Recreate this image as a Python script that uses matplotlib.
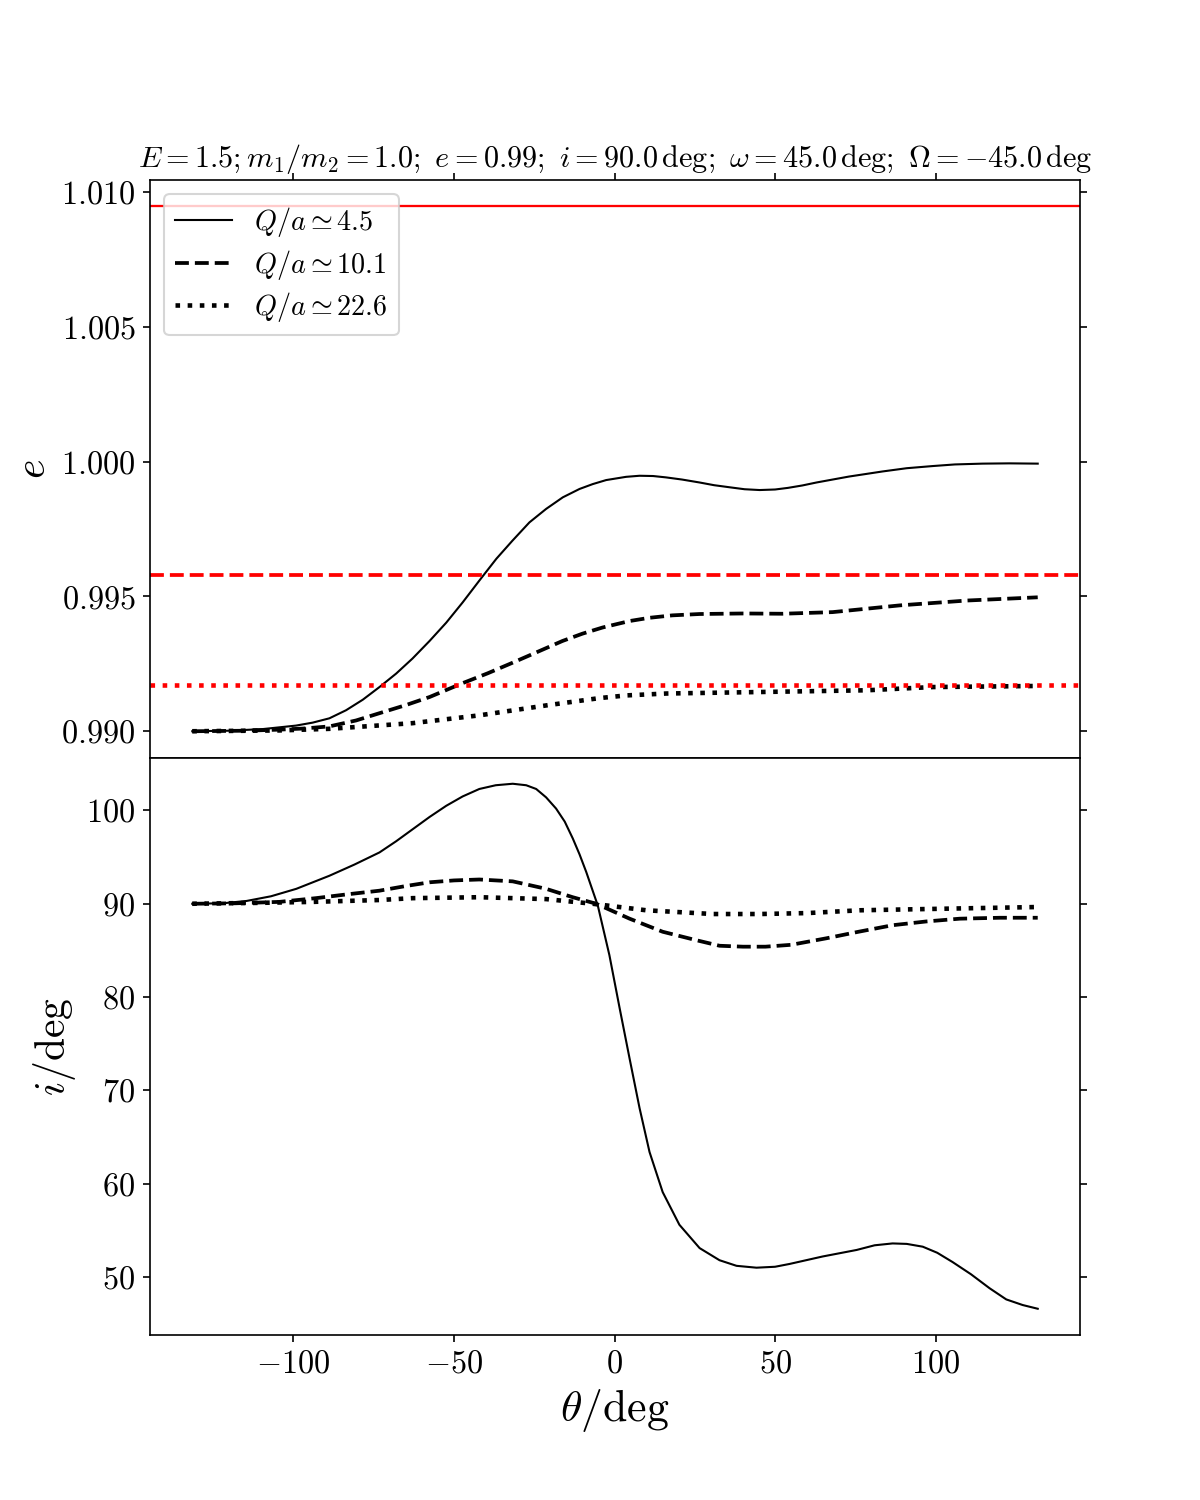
import numpy as np
import matplotlib
matplotlib.use("Agg")
import matplotlib.pyplot as plt

plt.rcParams.update({
    'font.family': 'serif',
    'font.serif': ['cmr10'],
    'mathtext.fontset': 'cm',
    'axes.formatter.use_mathtext': True,
    'axes.unicode_minus': True,
})

# --- e(theta) curves, top panel ---
th_e_solid = [-131.5, -120.0, -109.6, -99.2, -94.0, -88.8, -83.6, -78.4, -73.2, -68.0,
              -62.9, -57.6, -52.4, -47.3, -42.1, -36.8, -31.8, -26.5, -21.3, -16.1,
              -10.9, -6.8, -2.6, 3.6, 7.8, 12.0, 16.0, 21.0, 26.5, 31.0,
              36.0, 40.5, 45.2, 50.0, 54.0, 58.5, 62.9, 73.0, 83.5, 91.0,
              99.1, 106.0, 114.6, 123.0, 131.8]
e_solid = [0.99000, 0.99002, 0.99008, 0.99021, 0.99032, 0.99048, 0.99078, 0.99117, 0.99164, 0.99214,
           0.99270, 0.99335, 0.99403, 0.99478, 0.99559, 0.99640, 0.99707, 0.99775, 0.99825, 0.99868,
           0.99899, 0.99917, 0.99932, 0.99944, 0.99948, 0.99947, 0.99942, 0.99934, 0.99923, 0.99913,
           0.99905, 0.99898, 0.99895, 0.99897, 0.99903, 0.99912, 0.99923, 0.99945, 0.99964, 0.99976,
           0.99984, 0.99990, 0.99993, 0.99994, 0.99993]

th_e_dash = [-131.5, -114.7, -104.4, -97.0, -88.8, -80.5, -73.2, -65.0, -57.6, -47.4,
             -39.5, -31.8, -23.5, -16.2, -10.0, -3.7, 4.7, 10.9, 18.0, 26.5,
             40.0, 52.3, 67.9, 88.8, 109.7, 131.8]
e_dash = [0.99000, 0.99002, 0.99006, 0.99010, 0.99018, 0.99040, 0.99067, 0.99097, 0.99127, 0.99178,
          0.99215, 0.99254, 0.99297, 0.99335, 0.99362, 0.99385, 0.99409, 0.99421, 0.99430, 0.99435,
          0.99437, 0.99436, 0.99442, 0.99467, 0.99485, 0.99497]

th_e_dot = [-131.5, -104.4, -88.8, -62.9, -42.1, -21.2, -4.7, 3.7, 16.2, 47.4, 78.5, 99.1, 131.8]
e_dot = [0.99000, 0.99003, 0.99009, 0.99030, 0.99059, 0.99096, 0.99123, 0.99133, 0.99140,
         0.99146, 0.99152, 0.99164, 0.99168]

# limiting e values (red horizontal lines)
e_lim = [1.00948, 0.99578, 0.99170]

# --- i(theta) curves, bottom panel ---
th_i_solid = [-131.5, -122.0, -114.6, -107.0, -99.1, -88.8, -81.0, -73.2, -68.0, -62.8,
              -57.6, -52.4, -47.3, -42.1, -37.0, -31.7, -27.5, -24.4, -21.3, -18.2,
              -15.5, -13.0, -10.9, -8.8, -5.2, -1.6, 1.6, 4.7, 7.8, 10.9,
              15.0, 20.2, 26.5, 32.7, 38.0, 44.2, 50.0, 54.5, 64.8, 75.4,
              81.0, 86.6, 91.0, 96.0, 100.5, 105.3, 111.0, 116.8, 122.0, 127.1,
              131.8]
i_solid = [90.0, 90.05, 90.3, 90.8, 91.6, 93.0, 94.2, 95.5, 96.7, 98.0,
           99.3, 100.5, 101.5, 102.3, 102.7, 102.86, 102.7, 102.3, 101.4, 100.2,
           98.8, 97.0, 95.3, 93.4, 89.8, 84.5, 78.8, 73.4, 68.1, 63.4,
           59.1, 55.6, 53.1, 51.8, 51.2, 51.0, 51.1, 51.4, 52.2, 52.9,
           53.4, 53.6, 53.55, 53.25, 52.6, 51.6, 50.3, 48.8, 47.6, 47.0,
           46.6]

th_i_dash = [-131.5, -118.0, -104.4, -93.0, -83.5, -73.2, -65.0, -57.6, -50.0, -42.1,
             -31.7, -21.3, -13.0, -5.7, 4.7, 15.0, 25.4, 32.7, 40.0, 47.0,
             55.0, 66.0, 76.0, 86.6, 97.0, 107.5, 120.0, 131.8]
i_dash = [90.0, 90.05, 90.2, 90.6, 91.0, 91.4, 91.9, 92.3, 92.5, 92.6,
          92.4, 91.6, 90.7, 90.0, 88.4, 87.0, 86.1, 85.5, 85.4, 85.4,
          85.6, 86.3, 87.0, 87.7, 88.1, 88.4, 88.5, 88.5]

th_i_dot = [-131.5, -110.0, -94.1, -73.2, -62.9, -42.1, -21.3, -6.8, 9.9, 30.6,
            45.2, 60.0, 76.3, 107.5, 131.8]
i_dot = [90.0, 90.1, 90.2, 90.4, 90.6, 90.7, 90.5, 90.0, 89.3, 88.9,
         88.9, 89.0, 89.3, 89.5, 89.65]

labels = [r'$Q/a\simeq4.5$', r'$Q/a\simeq10.1$', r'$Q/a\simeq22.6$']

fig, (ax1, ax2) = plt.subplots(2, 1, figsize=(8, 10), dpi=150, sharex=True)
fig.subplots_adjust(hspace=0)

styles = [dict(ls='-', lw=1.0), dict(ls='--', lw=1.8), dict(ls=':', lw=2.2)]

# top panel: e
ax1.plot(th_e_solid, e_solid, color='k', label=labels[0], **styles[0])
ax1.plot(th_e_dash, e_dash, color='k', label=labels[1], **styles[1])
ax1.plot(th_e_dot, e_dot, color='k', label=labels[2], **styles[2])

ax1.axhline(e_lim[0], color='red', ls='-', lw=1.1)
ax1.axhline(e_lim[1], color='red', ls='--', lw=1.8)
ax1.axhline(e_lim[2], color='red', ls=':', lw=2.2)

# bottom panel: i
ax2.plot(th_i_solid, i_solid, color='k', **styles[0])
ax2.plot(th_i_dash, i_dash, color='k', **styles[1])
ax2.plot(th_i_dot, i_dot, color='k', **styles[2])

ax1.set_yticks([0.990, 0.995, 1.000, 1.005, 1.010])
ax1.set_yticklabels([r'$0.990$', r'$0.995$', r'$1.000$', r'$1.005$', r'$1.010$'])
ax2.set_yticks([50, 60, 70, 80, 90, 100])
ax2.set_xticks([-100, -50, 0, 50, 100])

ax1.tick_params(axis='both', labelsize=15.5, top=True, right=True, bottom=True)
ax2.tick_params(axis='both', labelsize=15.5, right=True)

ax1.set_ylabel(r'$e$', fontsize=20)
ax2.set_ylabel(r'$i/\mathrm{deg}$', fontsize=20)
ax2.set_xlabel(r'$\theta/\mathrm{deg}$', fontsize=21)

ax1.set_title(r'$E=1.5; m_1/m_2=1.0;\ e=0.99;\ i=90.0\,\mathrm{deg};\ \omega=45.0\,\mathrm{deg};\ \Omega=-45.0\,\mathrm{deg}$',
              fontsize=14.5)

ax1.legend(loc='upper left', fontsize=13.5, labelspacing=0.3)

fig.savefig('out.png', dpi=150)
